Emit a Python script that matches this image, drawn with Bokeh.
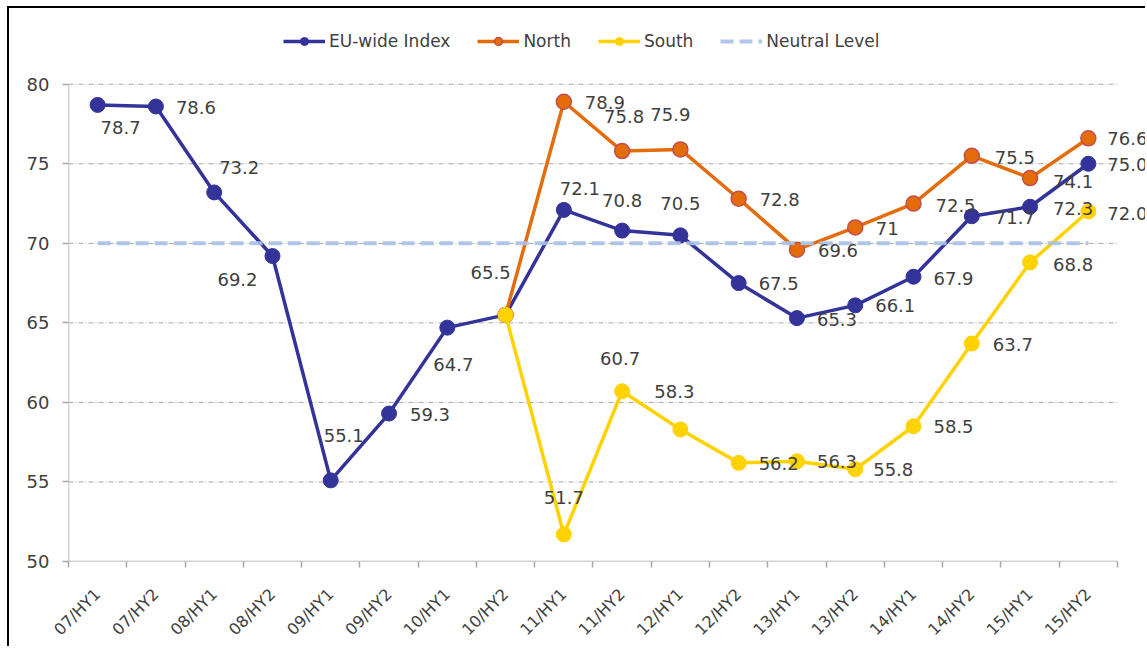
import math
from bokeh.plotting import figure
from bokeh.models import (Range1d, FixedTicker, CustomJSTickFormatter, Legend,
                          LegendItem, ColumnDataSource)
from bokeh.core.properties import value
from bokeh.embed import file_html
from bokeh.resources import INLINE

# ---------------- data ----------------
periods = ["07/HY1", "07/HY2", "08/HY1", "08/HY2", "09/HY1", "09/HY2",
           "10/HY1", "10/HY2", "11/HY1", "11/HY2", "12/HY1", "12/HY2",
           "13/HY1", "13/HY2", "14/HY1", "14/HY2", "15/HY1", "15/HY2"]
eu_values = [78.7, 78.6, 73.2, 69.2, 55.1, 59.3, 64.7, 65.5, 72.1, 70.8,
             70.5, 67.5, 65.3, 66.1, 67.9, 71.7, 72.3, 75.0]
eu_labels = ["78.7", "78.6", "73.2", "69.2", "55.1", "59.3", "64.7", "65.5",
             "72.1", "70.8", "70.5", "67.5", "65.3", "66.1", "67.9", "71.7",
             "72.3", "75.0"]
# North and South start at 10/HY2 (index 7)
split_start = 7
north_values = [65.5, 78.9, 75.8, 75.9, 72.8, 69.6, 71.0, 72.5, 75.5, 74.1, 76.6]
north_labels = ["", "78.9", "75.8", "75.9", "72.8", "69.6", "71", "72.5",
                "75.5", "74.1", "76.6"]
south_values = [65.5, 51.7, 60.7, 58.3, 56.2, 56.3, 55.8, 58.5, 63.7, 68.8, 72.0]
south_labels = ["", "51.7", "60.7", "58.3", "56.2", "56.3", "55.8", "58.5",
                "63.7", "68.8", "72.0"]
neutral_level = 70
y_ticks = [50, 55, 60, 65, 70, 75, 80]

# ---------------- label placement (style, px) ----------------
eu_dx = [23, 40, 25, -35, 13, 41, 6, -15, 16, 0, 0, 40, 40, 40, 40, 43, 43, 39]
eu_dy = [23, 1, -25, 23, -45, 1, 37, -42, -21, -30, -32, 0, 1, 0, 2, 1, 2, 1]
north_dx = [0, 41, 2, -10, 41, 41, 32, 42, 43, 43, 39]
north_dy = [0, 1, -35, -35, 1, 1, 1, 2, 2, 3, 0]
south_dx = [0, 0, -2, -6, 40, 40, 38, 40, 41, 43, 39]
south_dy = [0, -37, -33, -38, 1, 0, 0, 0, 1, 2, 2]

FONT = "DejaVu Sans"
TXT = "#404040"
EU_C = "#333399"
NORTH_C = "#E46C0A"
NORTH_EDGE = "#C0504D"
SOUTH_C = "#FFD200"
NEUTRAL_C = "#A9C1E8"
GRID_C = "#A6A6A6"

n = len(periods)
xs = [i + 0.5 for i in range(n)]
xs_split = xs[split_start:]
# the frame is stretched past the category / value area so that the legend and
# the data labels at the right edge are not clipped
x_overhang = 0.515
y_overhang = 4.76

p = figure(width=1138, height=640, output_backend="svg", toolbar_location=None,
           x_range=Range1d(0, n + x_overhang),
           y_range=Range1d(y_ticks[0], y_ticks[-1] + y_overhang),
           min_border_left=59, min_border_right=0, min_border_top=0,
           min_border_bottom=85)
p.styles = {"border-top": "2px solid black", "border-left": "2px solid black",
            "margin-top": "6px", "margin-left": "7px"}
p.outline_line_color = None
p.background_fill_color = "white"
p.border_fill_color = "white"

# axes
p.xaxis.ticker = FixedTicker(ticks=xs, minor_ticks=list(range(n + 1)))
p.xaxis.formatter = CustomJSTickFormatter(args=dict(labels=periods),
                                          code="return labels[Math.floor(tick)];")
p.xaxis.major_label_orientation = math.pi / 4
p.xaxis.major_tick_line_color = None
p.xaxis.major_tick_out = 6
p.xaxis.minor_tick_line_color = GRID_C
p.xaxis.minor_tick_line_width = 1.5
p.xaxis.minor_tick_out = 6
p.xaxis.minor_tick_in = 0
p.xaxis.major_label_standoff = 24
p.xaxis.axis_line_color = None

p.yaxis.ticker = FixedTicker(ticks=y_ticks)
p.yaxis.major_tick_out = 6
p.yaxis.major_tick_in = 0
p.yaxis.minor_tick_line_color = None
p.yaxis.major_tick_line_color = GRID_C
p.yaxis.major_tick_line_width = 1.5
p.yaxis.axis_line_color = None
p.yaxis.major_label_standoff = 13

for ax in (p.xaxis, p.yaxis):
    ax.major_label_text_font = FONT
    ax.major_label_text_color = TXT
p.xaxis.major_label_text_font_size = "16px"
p.yaxis.major_label_text_font_size = "18px"

p.xgrid.grid_line_color = None
p.ygrid.grid_line_color = None

# grid lines and axis lines spanning only the category / value area
grid_levels = y_ticks[1:]
p.segment(x0=[0] * len(grid_levels), x1=[n] * len(grid_levels),
          y0=grid_levels, y1=grid_levels, line_color=GRID_C, line_width=1,
          line_dash="5 2 1 2")
p.segment(x0=[0], x1=[n], y0=[y_ticks[0]], y1=[y_ticks[0]],
          line_color=GRID_C, line_width=1.5)
p.segment(x0=[0], x1=[0], y0=[y_ticks[0]], y1=[y_ticks[-1]],
          line_color=GRID_C, line_width=1.5)

# series
eu_line = p.line(xs, eu_values, line_color=EU_C, line_width=3.5)
eu_pts = p.scatter(xs, eu_values, size=15, fill_color=EU_C, line_color=EU_C)
no_line = p.line(xs_split, north_values, line_color=NORTH_C, line_width=3.5)
no_pts = p.scatter(xs_split, north_values, size=15, fill_color=NORTH_C,
                   line_color=NORTH_EDGE, line_width=1.5)
so_line = p.line(xs_split, south_values, line_color=SOUTH_C, line_width=3.5)
so_pts = p.scatter(xs_split, south_values, size=15, fill_color=SOUTH_C,
                   line_color=SOUTH_C)
neutral = p.line(xs, [neutral_level] * n, line_color=NEUTRAL_C, line_width=4,
                 line_dash="13 6", line_alpha=0.9)

# data labels
def add_labels(x, y, t, dx, dy):
    src = ColumnDataSource(dict(x=x, y=y, t=t, dx=dx, dy=dy))
    p.text(x="x", y="y", text="t", x_offset="dx", y_offset="dy", source=src,
           text_align="center", text_baseline="middle",
           text_font=value(FONT), text_font_size="18px", text_color=TXT)

add_labels(xs, eu_values, eu_labels, eu_dx, eu_dy)
add_labels(xs_split, north_values, north_labels, north_dx, north_dy)
add_labels(xs_split, south_values, south_labels, south_dx, south_dy)

legend = Legend(items=[
    LegendItem(label="EU-wide Index", renderers=[eu_line, eu_pts]),
    LegendItem(label="North", renderers=[no_line, no_pts]),
    LegendItem(label="South", renderers=[so_line, so_pts]),
    LegendItem(label="Neutral Level", renderers=[neutral]),
], location=(215, 510), orientation="horizontal")
legend.glyph_width = 42
legend.glyph_height = 20
legend.label_height = 20
legend.label_standoff = 4
legend.spacing = 27
legend.padding = 0
legend.margin = 0
legend.border_line_alpha = 0
legend.background_fill_alpha = 0
legend.label_text_font = FONT
legend.label_text_font_size = "17px"
legend.label_text_color = TXT
p.add_layout(legend)

open("out.html", "w").write(file_html(p, INLINE))
